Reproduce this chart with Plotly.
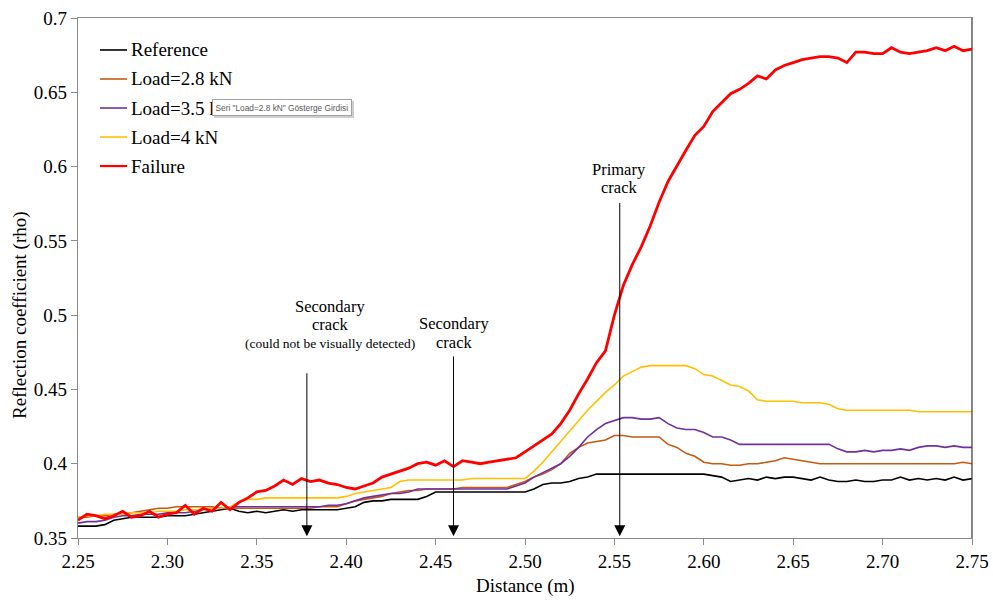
import plotly.graph_objects as go

# ---------------- data ----------------
distance = [round(2.25 + 0.005 * i, 3) for i in range(101)]

reference = [
    0.358, 0.358, 0.358, 0.359, 0.362, 0.363, 0.364, 0.364, 0.364, 0.364,
    0.365, 0.365, 0.365, 0.366, 0.367, 0.368, 0.369, 0.370, 0.368, 0.367,
    0.368, 0.367, 0.368, 0.369, 0.368, 0.369, 0.369, 0.369, 0.369, 0.369,
    0.370, 0.371, 0.374, 0.375, 0.375, 0.376, 0.376, 0.376, 0.376, 0.378,
    0.381, 0.381, 0.381, 0.381, 0.381, 0.381, 0.381, 0.381, 0.381, 0.381,
    0.381, 0.383, 0.386, 0.387, 0.387, 0.388, 0.390, 0.391, 0.393, 0.393,
    0.393, 0.393, 0.393, 0.393, 0.393, 0.393, 0.393, 0.393, 0.393, 0.393,
    0.393, 0.392, 0.391, 0.388, 0.389, 0.390, 0.389, 0.391, 0.390, 0.391,
    0.391, 0.390, 0.389, 0.391, 0.389, 0.388, 0.388, 0.389, 0.388, 0.388,
    0.389, 0.389, 0.391, 0.389, 0.390, 0.389, 0.390, 0.389, 0.391, 0.389,
    0.390,
]

load_2_8 = [
    0.364, 0.364, 0.365, 0.365, 0.366, 0.366, 0.367, 0.368, 0.369, 0.370,
    0.370, 0.371, 0.371, 0.371, 0.371, 0.371, 0.370, 0.370, 0.370, 0.370,
    0.370, 0.370, 0.370, 0.370, 0.370, 0.370, 0.370, 0.371, 0.371, 0.371,
    0.373, 0.375, 0.376, 0.377, 0.378, 0.380, 0.381, 0.382, 0.382, 0.383,
    0.383, 0.383, 0.383, 0.384, 0.384, 0.384, 0.384, 0.384, 0.384, 0.386,
    0.388, 0.391, 0.393, 0.396, 0.400, 0.407, 0.411, 0.414, 0.415, 0.416,
    0.419, 0.419, 0.418, 0.418, 0.418, 0.418, 0.413, 0.411, 0.407, 0.405,
    0.401, 0.400, 0.400, 0.399, 0.399, 0.400, 0.400, 0.401, 0.402, 0.404,
    0.403, 0.402, 0.401, 0.400, 0.400, 0.400, 0.400, 0.400, 0.400, 0.400,
    0.400, 0.400, 0.400, 0.400, 0.400, 0.400, 0.400, 0.400, 0.400, 0.401,
    0.400,
]

load_3_5 = [
    0.360, 0.361, 0.361, 0.362, 0.364, 0.365, 0.365, 0.366, 0.366, 0.366,
    0.367, 0.367, 0.367, 0.368, 0.369, 0.370, 0.370, 0.371, 0.371, 0.371,
    0.371, 0.371, 0.371, 0.371, 0.371, 0.371, 0.371, 0.371, 0.372, 0.372,
    0.373, 0.375, 0.377, 0.378, 0.379, 0.380, 0.380, 0.381, 0.383, 0.383,
    0.383, 0.383, 0.383, 0.383, 0.383, 0.383, 0.383, 0.383, 0.383, 0.385,
    0.387, 0.391, 0.394, 0.397, 0.400, 0.405, 0.411, 0.418, 0.423, 0.427,
    0.429, 0.431, 0.431, 0.430, 0.430, 0.431, 0.427, 0.424, 0.423, 0.423,
    0.421, 0.418, 0.418, 0.416, 0.413, 0.413, 0.413, 0.413, 0.413, 0.413,
    0.413, 0.413, 0.413, 0.413, 0.413, 0.410, 0.408, 0.408, 0.409, 0.408,
    0.409, 0.409, 0.410, 0.409, 0.411, 0.412, 0.412, 0.411, 0.412, 0.411,
    0.411,
]

load_4 = [
    0.364, 0.365, 0.365, 0.366, 0.366, 0.366, 0.367, 0.367, 0.367, 0.368,
    0.368, 0.368, 0.369, 0.369, 0.369, 0.370, 0.370, 0.371, 0.374, 0.376,
    0.376, 0.377, 0.377, 0.377, 0.377, 0.377, 0.377, 0.377, 0.377, 0.377,
    0.378, 0.380, 0.381, 0.382, 0.383, 0.384, 0.388, 0.389, 0.389, 0.389,
    0.389, 0.389, 0.389, 0.389, 0.390, 0.390, 0.390, 0.390, 0.390, 0.390,
    0.390, 0.395, 0.401, 0.408, 0.415, 0.422, 0.429, 0.436, 0.442, 0.448,
    0.453, 0.459, 0.462, 0.465, 0.466, 0.466, 0.466, 0.466, 0.466, 0.464,
    0.460, 0.459, 0.456, 0.453, 0.452, 0.449, 0.443, 0.442, 0.442, 0.442,
    0.442, 0.441, 0.441, 0.441, 0.440, 0.437, 0.436, 0.436, 0.436, 0.436,
    0.436, 0.436, 0.436, 0.436, 0.435, 0.435, 0.435, 0.435, 0.435, 0.435,
    0.435,
]

failure = [
    0.362, 0.366, 0.365, 0.363, 0.365, 0.368, 0.364, 0.365, 0.368, 0.364,
    0.366, 0.367, 0.372, 0.366, 0.370, 0.368, 0.374, 0.369, 0.374, 0.377,
    0.381, 0.382, 0.385, 0.389, 0.386, 0.390, 0.388, 0.389, 0.387, 0.386,
    0.384, 0.383, 0.385, 0.387, 0.391, 0.393, 0.395, 0.397, 0.400, 0.401,
    0.399, 0.402, 0.398, 0.402, 0.401, 0.400, 0.401, 0.402, 0.403, 0.404,
    0.408, 0.412, 0.416, 0.420, 0.427, 0.436, 0.447, 0.457, 0.468, 0.476,
    0.500, 0.520, 0.534, 0.546, 0.560, 0.576, 0.590, 0.601, 0.611, 0.621,
    0.627, 0.637, 0.643, 0.649, 0.652, 0.656, 0.661, 0.659, 0.665, 0.668,
    0.670, 0.672, 0.673, 0.674, 0.674, 0.673, 0.670, 0.677, 0.677, 0.676,
    0.676, 0.680, 0.677, 0.676, 0.677, 0.678, 0.680, 0.678, 0.681, 0.678,
    0.679,
]

series_names = ["Reference", "Load=2.8 kN", "Load=3.5 kN", "Load=4 kN", "Failure"]
series_values = [reference, load_2_8, load_3_5, load_4, failure]
series_colors = ["#000000", "#C55A11", "#7030A0", "#FFC000", "#FF0000"]
series_widths = [1.6, 1.6, 1.6, 1.6, 2.8]

x_ticks = [2.25, 2.30, 2.35, 2.40, 2.45, 2.50, 2.55, 2.60, 2.65, 2.70, 2.75]
y_ticks = [0.35, 0.4, 0.45, 0.5, 0.55, 0.6, 0.65, 0.7]

# crack markers: x position and the y where each arrow starts
crack_x = [2.378, 2.460, 2.553]
crack_top = [0.4619, 0.4732, 0.5765]

FONT = "Liberation Serif"

fig = go.Figure()
for name, vals, col, w in zip(series_names, series_values, series_colors, series_widths):
    fig.add_trace(go.Scatter(x=distance, y=vals, mode="lines", name=name,
                             showlegend=False,
                             line=dict(color=col, width=w)))

annotations = []
shapes = []

# legend (drawn as paper-anchored samples + labels, top-left inside the plot)
leg_x0, leg_x1, leg_text_x = 0.0246, 0.0548, 0.0570
leg_y_top, leg_step = 0.9385, 0.0558
for k, (name, col, w) in enumerate(zip(series_names, series_colors, series_widths)):
    yy = leg_y_top - k * leg_step
    shapes.append(dict(type="line", xref="paper", yref="paper",
                       x0=leg_x0, x1=leg_x1, y0=yy, y1=yy,
                       line=dict(color=col, width=min(w, 2.2))))
    annotations.append(dict(x=leg_text_x, y=yy, xref="paper", yref="paper",
                            text=name, showarrow=False, xanchor="left",
                            yanchor="middle",
                            font=dict(family=FONT, size=19, color="#000000")))

# arrows
for cx, ct in zip(crack_x, crack_top):
    annotations.append(dict(x=cx, y=0.3512, ax=cx, ay=ct, xref="x", yref="y",
                            axref="x", ayref="y", text="", showarrow=True,
                            arrowhead=2, arrowsize=2.2, arrowwidth=1,
                            arrowcolor="#000000", standoff=0, startstandoff=0))

def label(x, y, text, size):
    annotations.append(dict(x=x, y=y, xref="x", yref="y", text=text,
                            showarrow=False, xanchor="center", yanchor="middle",
                            font=dict(family=FONT, size=size, color="#000000")))

label(2.391, 0.5057, "Secondary", 16.5)
label(2.391, 0.4934, "crack", 16.5)
label(2.391, 0.4812, "(could not be visually detected)", 13.5)
label(2.4605, 0.4947, "Secondary", 16.5)
label(2.4605, 0.4819, "crack", 16.5)
label(2.5525, 0.5977, "Primary", 16.5)
label(2.5525, 0.5862, "crack", 16.5)

# axis titles
annotations.append(dict(x=-0.0649, y=0.429, xref="paper", yref="paper",
                        text="Reflection coefficient (rho)", textangle=-90,
                        showarrow=False, xanchor="center", yanchor="middle",
                        font=dict(family=FONT, size=19, color="#000000")))
annotations.append(dict(x=0.5, y=-0.0925, xref="paper", yref="paper",
                        text="Distance (m)", showarrow=False,
                        xanchor="center", yanchor="middle",
                        font=dict(family=FONT, size=19, color="#000000")))

# tooltip box seen in the screenshot (shadow first, then the box)
tip_text = 'Seri "Load=2.8 kN" Gösterge Girdisi'
annotations.append(dict(x=0.2282, y=0.827, xref="paper", yref="paper",
                        text=tip_text, showarrow=False, xanchor="center",
                        yanchor="middle", xshift=2, yshift=-2,
                        bgcolor="#CFCFCF", bordercolor="#CFCFCF", borderwidth=1,
                        borderpad=2.5,
                        font=dict(family="Liberation Sans", size=8.3,
                                  color="#CFCFCF")))
annotations.append(dict(x=0.2282, y=0.827, xref="paper", yref="paper",
                        text=tip_text, showarrow=False, xanchor="center",
                        yanchor="middle",
                        bgcolor="#FFFFFF", bordercolor="#A0A0A0", borderwidth=1,
                        borderpad=2.5,
                        font=dict(family="Liberation Sans", size=8.3,
                                  color="#575757")))

shapes.append(dict(type="line", xref="x", yref="paper", x0=2.75, x1=2.75,
                   y0=0, y1=1, line=dict(color="#404040", width=1.3)))

fig.update_layout(
    width=993, height=601,
    autosize=False,
    margin=dict(l=78, r=21, t=18, b=63, autoexpand=False),
    paper_bgcolor="#FFFFFF", plot_bgcolor="#FFFFFF",
    font=dict(family=FONT, size=19, color="#000000"),
    showlegend=False,
    annotations=annotations,
    shapes=shapes,
    xaxis=dict(range=[2.25, 2.75], tickvals=x_ticks,
               ticktext=[f"{v:.2f}" for v in x_ticks],
               showgrid=False, zeroline=False, showline=True, automargin=False,
               linecolor="#898989", linewidth=1.3, mirror=True,
               ticks="outside", ticklen=6, tickcolor="#898989",
               tickfont=dict(family=FONT, size=19, color="#000000")),
    yaxis=dict(range=[0.35, 0.7], tickvals=y_ticks,
               ticktext=[f"{v:g}" for v in y_ticks],
               showgrid=False, zeroline=False, showline=True, automargin=False,
               linecolor="#898989", linewidth=1.3, mirror=True,
               ticks="outside", ticklen=6, tickcolor="#898989",
               tickfont=dict(family=FONT, size=19, color="#000000")),
)

fig.write_html("out.html")
